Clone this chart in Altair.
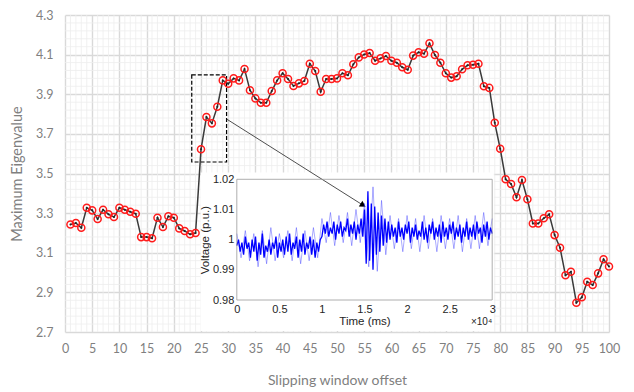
import altair as alt
import pandas as pd

# ---------------- main series ----------------
offsets = list(range(1, 101))
eigen = [3.243, 3.250, 3.226, 3.327, 3.314, 3.270, 3.317, 3.294, 3.280, 3.327,
         3.317, 3.307, 3.297, 3.179, 3.179, 3.173, 3.277, 3.230, 3.284, 3.277,
         3.223, 3.210, 3.193, 3.200, 3.622, 3.785, 3.753, 3.837, 3.970, 3.953,
         3.980, 3.970, 4.027, 3.920, 3.879, 3.857, 3.857, 3.916, 3.970, 4.006,
         3.977, 3.942, 3.955, 3.967, 4.054, 4.017, 3.913, 3.977, 3.977, 3.980,
         4.006, 3.996, 4.051, 4.086, 4.101, 4.108, 4.069, 4.081, 4.093, 4.069,
         4.059, 4.036, 4.024, 4.095, 4.112, 4.105, 4.157, 4.098, 4.059, 4.006,
         3.984, 3.991, 4.026, 4.046, 4.049, 4.054, 3.940, 3.932, 3.756, 3.625,
         3.471, 3.447, 3.380, 3.467, 3.370, 3.248, 3.248, 3.274, 3.294, 3.189,
         3.125, 2.986, 3.004, 2.848, 2.875, 2.954, 2.937, 2.996, 3.067, 3.031]

x_ticks = list(range(0, 101, 5))
y_ticks = [2.7, 2.9, 3.1, 3.3, 3.5, 3.7, 3.9, 4.1, 4.3]
minor_x = [v for v in range(1, 100) if v % 5 != 0]
minor_y = [round(2.7 + 0.04 * i, 2) for i in range(1, 40) if i % 5 != 0]

# annotation boxes (main data coordinates)
zoom_box_x = [23.3, 29.7]
zoom_box_y = [3.558, 3.998]
inset_bg_x = [24.93, 78.84]
inset_bg_y = [2.705, 3.505]
arrow_x = [29.7, 54.79]
arrow_y = [3.775, 3.340]
arrow_angle = [32.3]

# ---------------- inset series ----------------
signal = [
    0.998, 1.000, 0.996, 0.999, 0.995, 1.001, 0.997, 0.999, 0.994, 1.000,
    0.996, 1.001, 0.993, 0.999, 0.995, 1.002, 0.994, 0.998, 0.996, 1.000,
    0.995, 0.999, 0.997, 1.001, 0.994, 0.999, 0.996, 1.000, 0.995, 1.001,
    0.996, 1.002, 0.995, 0.999, 0.997, 1.001, 0.994, 1.000, 0.996, 1.002,
    0.995, 0.999, 0.997, 1.001, 0.995, 1.000, 0.994, 0.999, 0.996, 1.000,
    1.001, 1.005, 1.002, 1.006, 1.001, 1.004, 1.002, 1.006, 1.000, 1.005,
    1.002, 1.006, 1.001, 1.004, 1.003, 1.007, 1.001, 1.005, 1.002, 1.006,
    1.000, 1.005, 1.002, 1.007, 1.001,
    1.010, 0.992, 1.016, 0.993, 1.012, 0.990, 1.011, 0.995, 1.009, 0.996,
    1.008, 0.998, 1.007, 0.999, 1.006,
    1.000, 1.005, 1.001, 1.004, 0.999, 1.006, 1.001, 1.004, 1.000, 1.005,
    1.002, 1.006, 0.999, 1.004, 1.001, 1.005, 1.000, 1.003, 1.001, 1.006,
    1.000, 1.004, 0.999, 1.005, 1.002, 1.006, 1.000, 1.004, 1.001, 1.005,
    0.999, 1.006, 1.001, 1.004, 1.000, 1.005, 1.002, 1.006, 1.000, 1.004,
    1.001, 1.005, 0.999, 1.004, 1.001, 1.006, 1.000, 1.004, 1.001, 1.005,
    1.000, 1.006, 1.002, 1.004, 0.999, 1.005, 1.001, 1.006, 1.000, 1.004,
    1.002]
spikes = [
    1.002, 0.994, 1.003, 0.993, 1.002, 0.991, 1.003, 0.992, 1.004, 0.993,
    1.002, 0.994, 1.003, 0.993, 1.004, 0.992, 1.003, 0.993, 1.004, 0.994,
    1.007, 0.999, 1.009, 0.998, 1.008, 0.999, 1.009, 0.998, 1.010, 0.999,
    1.012, 0.991, 1.0175, 0.9895, 1.013, 0.995,
    1.008, 0.997, 1.007, 0.996, 1.008, 0.997, 1.007, 0.996, 1.008, 0.997,
    1.007, 0.996, 1.008, 0.997, 1.007, 0.997, 1.008, 0.996, 1.007, 0.997,
    1.008, 0.997, 1.009, 0.998, 1.007]
t_signal = [round(i * 0.02, 2) for i in range(len(signal))]
t_spikes = [round(i * 0.05, 2) for i in range(len(spikes))]
inset_x_ticks = [0, 0.5, 1, 1.5, 2, 2.5, 3]
inset_y_ticks = [0.98, 0.99, 1.0, 1.01, 1.02]
inset_box_x = [0, 3]
inset_box_y = [0.98, 1.02]

# ---------------- scales ----------------
W, H = 544, 317
xs = alt.Scale(domain=[0, 100], nice=False, zero=False)
ys = alt.Scale(domain=[2.7, 4.3], nice=False, zero=False)
ixs = alt.Scale(domain=[0, 3], range=[171.8, 427.2], nice=False, zero=False)
iys = alt.Scale(domain=[0.98, 1.02], range=[285, 164.3], nice=False, zero=False)

FONT = "Lato"
GRAY = "#7f7f7f"

x_axis = alt.Axis(values=x_ticks, orient="bottom", grid=True, gridColor="#d9d9d9",
                  gridWidth=1.4, domain=False, ticks=False, labelColor=GRAY,
                  labelFont=FONT, labelFontSize=12.5, labelPadding=10,
                  labelOverlap=False, labelFlush=False,
                  title="Slipping window offset", titleFont=FONT, titleFontSize=14,
                  titleColor=GRAY, titleFontWeight="normal", titlePadding=19)
y_axis = alt.Axis(values=y_ticks, orient="left", format=".1f", grid=True,
                  gridColor="#d9d9d9", gridWidth=1.4, domain=False, ticks=False,
                  labelColor=GRAY, labelFont=FONT, labelFontSize=12.5, labelPadding=12,
                  labelOverlap=False, labelFlush=False,
                  title="Maximum Eigenvalue", titleFont=FONT, titleFontSize=14.5,
                  titleColor=GRAY, titleFontWeight="normal", titlePadding=11)

main_df = pd.DataFrame({"offset": offsets, "eigen": eigen})

minor_v = alt.Chart(pd.DataFrame({"v": minor_x})).mark_rule(
    color="#eeeeee", strokeWidth=0.8).encode(
    x=alt.X("v:Q", scale=xs, axis=None))
minor_h = alt.Chart(pd.DataFrame({"v": minor_y})).mark_rule(
    color="#eeeeee", strokeWidth=0.8).encode(
    y=alt.Y("v:Q", scale=ys, axis=None))

# carrier of the main axes (gridlines drawn under marks)
axes_main = alt.Chart(main_df).mark_point(opacity=0).encode(
    x=alt.X("offset:Q", scale=xs, axis=x_axis),
    y=alt.Y("eigen:Q", scale=ys, axis=y_axis))

bg = alt.Chart(pd.DataFrame({"x": [inset_bg_x[0]], "x2": [inset_bg_x[1]],
                             "y": [inset_bg_y[0]], "y2": [inset_bg_y[1]]})).mark_rect(
    fill="white").encode(
    x=alt.X("x:Q", scale=xs, axis=None), x2="x2:Q",
    y=alt.Y("y:Q", scale=ys, axis=None), y2="y2:Q")

zbox = alt.Chart(pd.DataFrame({"x": [zoom_box_x[0]], "x2": [zoom_box_x[1]],
                               "y": [zoom_box_y[0]], "y2": [zoom_box_y[1]]})).mark_rect(
    fillOpacity=0, stroke="black", strokeWidth=1.2, strokeDash=[4, 2]).encode(
    x=alt.X("x:Q", scale=xs, axis=None), x2="x2:Q",
    y=alt.Y("y:Q", scale=ys, axis=None), y2="y2:Q")

line = alt.Chart(main_df).mark_line(color="#3a3a3a", strokeWidth=1.5).encode(
    x=alt.X("offset:Q", scale=xs, axis=None),
    y=alt.Y("eigen:Q", scale=ys, axis=None))
pts = alt.Chart(main_df).mark_point(shape="circle", filled=False, color="#ff1a1a",
                                    size=50, strokeWidth=1.5, opacity=1).encode(
    x=alt.X("offset:Q", scale=xs, axis=None),
    y=alt.Y("eigen:Q", scale=ys, axis=None))
dots = alt.Chart(main_df).mark_point(shape="circle", filled=True, color="#222222",
                                     size=4, opacity=1).encode(
    x=alt.X("offset:Q", scale=xs, axis=None),
    y=alt.Y("eigen:Q", scale=ys, axis=None))

arrow_line = alt.Chart(pd.DataFrame({"x": [arrow_x[0]], "x2": [arrow_x[1]],
                                     "y": [arrow_y[0]], "y2": [arrow_y[1]]})).mark_rule(
    color="#222222", strokeWidth=0.8).encode(
    x=alt.X("x:Q", scale=xs, axis=None), x2="x2:Q",
    y=alt.Y("y:Q", scale=ys, axis=None), y2="y2:Q")
arrow_head = alt.Chart(pd.DataFrame({"x": [arrow_x[1]], "y": [arrow_y[1]]})).mark_point(
    shape="triangle-right", filled=True, color="black", size=45, opacity=1,
    angle=arrow_angle[0]).encode(
    x=alt.X("x:Q", scale=xs, axis=None),
    y=alt.Y("y:Q", scale=ys, axis=None))

# ---------------- inset ----------------
IFONT = "Liberation Sans"
ICOL = "#262626"
ix_axis = alt.Axis(values=inset_x_ticks, format="~g", orient="bottom", offset=-32,
                   zindex=2, labelOverlap=False, labelFlush=False,
                   grid=False, domain=False, ticks=False, labelFont=IFONT,
                   labelFontSize=11, labelColor=ICOL, labelPadding=3,
                   title="Time (ms)", titleFont=IFONT, titleFontSize=11.5,
                   titleColor=ICOL, titleFontWeight="normal", titlePadding=1)
iy_axis = alt.Axis(values=inset_y_ticks, format="~g", orient="left", offset=-171.8,
                   zindex=2, labelOverlap=False, labelFlush=False,
                   grid=False, domain=False, ticks=False, labelFont=IFONT,
                   labelFontSize=11, labelColor=ICOL, labelPadding=3,
                   title="Voltage (p.u.)", titleFont=IFONT, titleFontSize=11.5,
                   titleColor=ICOL, titleFontWeight="normal", titlePadding=2)

sp = alt.Chart(pd.DataFrame({"t": t_spikes, "v": spikes})).mark_line(
    color="#3333ff", strokeWidth=0.7, opacity=0.6).encode(
    x=alt.X("t:Q", scale=ixs, axis=None),
    y=alt.Y("v:Q", scale=iys, axis=None))
sig = alt.Chart(pd.DataFrame({"t": t_signal, "v": signal})).mark_line(
    color="#0000ff", strokeWidth=1.3).encode(
    x=alt.X("t:Q", scale=ixs, axis=ix_axis),
    y=alt.Y("v:Q", scale=iys, axis=iy_axis))
ibox = alt.Chart(pd.DataFrame({"x": [inset_box_x[0]], "x2": [inset_box_x[1]],
                               "y": [inset_box_y[0]], "y2": [inset_box_y[1]]})).mark_rect(
    fillOpacity=0, stroke="#9a9a9a", strokeWidth=0.8).encode(
    x=alt.X("x:Q", scale=ixs, axis=None), x2="x2:Q",
    y=alt.Y("y:Q", scale=iys, axis=None), y2="y2:Q")
exp_txt = alt.Chart(pd.DataFrame({"x": [3.0], "y": [0.9728], "s": ["×10⁴"]})).mark_text(
    align="right", baseline="middle", font=IFONT, fontSize=10, color=ICOL).encode(
    x=alt.X("x:Q", scale=ixs, axis=None),
    y=alt.Y("y:Q", scale=iys, axis=None),
    text="s:N")

chart = alt.layer(axes_main, minor_v, minor_h, bg, zbox, line, pts, dots,
                  arrow_line, arrow_head, sp, sig, ibox, exp_txt).resolve_scale(
    x="independent", y="independent").resolve_axis(
    x="independent", y="independent").properties(
    width=W, height=H, autosize=alt.AutoSizeParams(type="none"),
    padding={"left": 65, "top": 15, "right": 25, "bottom": 60},
    background="white").configure_view(strokeWidth=0)

chart.save("out.html", embed_options={"renderer": "svg", "actions": False})
